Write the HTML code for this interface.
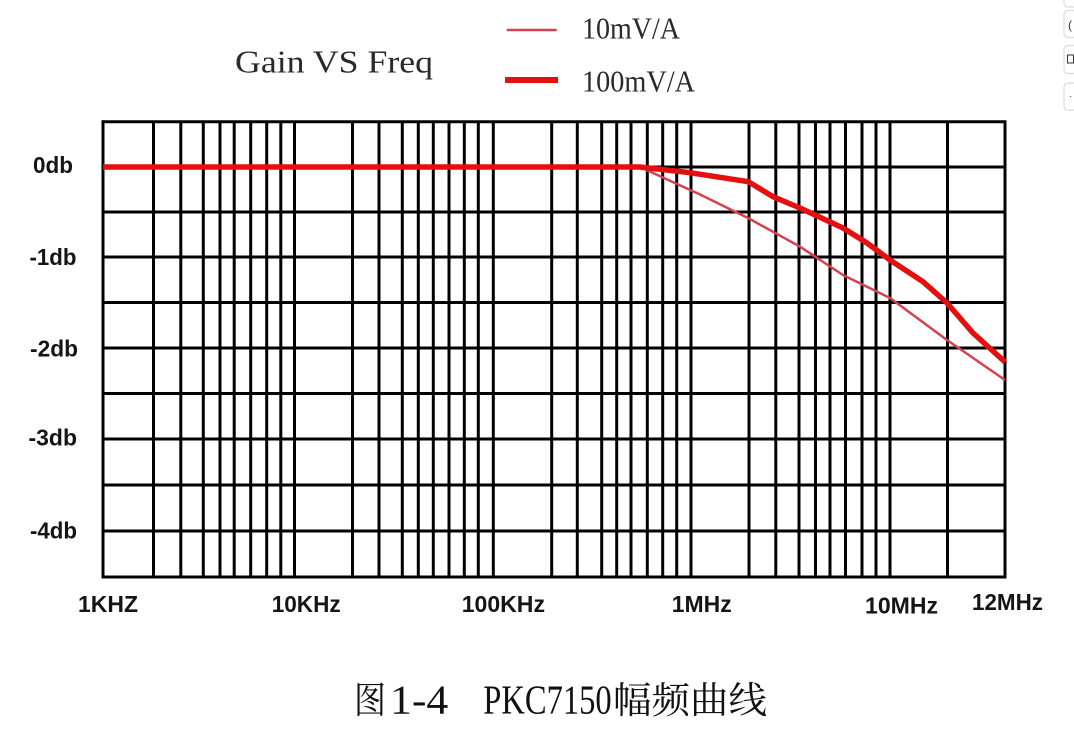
<!DOCTYPE html>
<html>
<head>
<meta charset="utf-8">
<style>
  html,body{margin:0;padding:0;background:#fff;}
  body{width:1074px;height:730px;overflow:hidden;}
  svg{display:block;}
  .ax{font-family:"Liberation Sans",Arial,sans-serif;font-size:23px;font-weight:bold;fill:#151515;}
  .ser{font-family:"Liberation Serif","Noto Serif CJK SC",serif;fill:#2a2a2a;}
  .cjk{font-family:"Liberation Serif","Noto Serif CJK SC",serif;fill:#111;}
  .g line{stroke:#000;stroke-width:3;}
</style>
</head>
<body>
<svg width="1074" height="730" viewBox="0 0 1074 730" xmlns="http://www.w3.org/2000/svg">
  <rect x="0" y="0" width="1074" height="730" fill="#fff"/>

  <text class="ser" x="235" y="72.5" font-size="32" textLength="198" lengthAdjust="spacingAndGlyphs">Gain VS Freq</text>
  <line x1="506.7" y1="30" x2="556.7" y2="30" stroke="#d2434f" stroke-width="2.5"/>
  <text class="ser" x="582" y="38.5" font-size="31" textLength="98" lengthAdjust="spacingAndGlyphs">10mV/A</text>
  <line x1="505" y1="80" x2="558" y2="80" stroke="#e60f0f" stroke-width="6"/>
  <text class="ser" x="582" y="91.5" font-size="31" textLength="113" lengthAdjust="spacingAndGlyphs">100mV/A</text>

  <g class="g">
    <line x1="103" y1="121.7" x2="1005" y2="121.7"/>
    <line x1="103" y1="167" x2="1005" y2="167"/>
    <line x1="103" y1="212" x2="1005" y2="212"/>
    <line x1="103" y1="257" x2="1005" y2="257"/>
    <line x1="103" y1="302.5" x2="1005" y2="302.5"/>
    <line x1="103" y1="348" x2="1005" y2="348"/>
    <line x1="103" y1="393.5" x2="1005" y2="393.5"/>
    <line x1="103" y1="439" x2="1005" y2="439"/>
    <line x1="103" y1="485" x2="1005" y2="485"/>
    <line x1="103" y1="531" x2="1005" y2="531"/>
    <line x1="103" y1="577" x2="1005" y2="577"/>
    <line x1="103" y1="120.2" x2="103" y2="578.5"/>
    <line x1="153.5" y1="121.7" x2="153.5" y2="577"/>
    <line x1="180.8" y1="121.7" x2="180.8" y2="577"/>
    <line x1="203.3" y1="121.7" x2="203.3" y2="577"/>
    <line x1="220" y1="121.7" x2="220" y2="577"/>
    <line x1="234.2" y1="121.7" x2="234.2" y2="577"/>
    <line x1="250.7" y1="121.7" x2="250.7" y2="577"/>
    <line x1="266.7" y1="121.7" x2="266.7" y2="577"/>
    <line x1="280.8" y1="121.7" x2="280.8" y2="577"/>
    <line x1="294.5" y1="121.7" x2="294.5" y2="577"/>
    <line x1="352.5" y1="121.7" x2="352.5" y2="577"/>
    <line x1="379" y1="121.7" x2="379" y2="577"/>
    <line x1="402.3" y1="121.7" x2="402.3" y2="577"/>
    <line x1="418.3" y1="121.7" x2="418.3" y2="577"/>
    <line x1="433.3" y1="121.7" x2="433.3" y2="577"/>
    <line x1="449" y1="121.7" x2="449" y2="577"/>
    <line x1="464.3" y1="121.7" x2="464.3" y2="577"/>
    <line x1="478.3" y1="121.7" x2="478.3" y2="577"/>
    <line x1="493.3" y1="121.7" x2="493.3" y2="577"/>
    <line x1="551.7" y1="121.7" x2="551.7" y2="577"/>
    <line x1="577.3" y1="121.7" x2="577.3" y2="577"/>
    <line x1="601.7" y1="121.7" x2="601.7" y2="577"/>
    <line x1="616.7" y1="121.7" x2="616.7" y2="577"/>
    <line x1="631" y1="121.7" x2="631" y2="577"/>
    <line x1="647.3" y1="121.7" x2="647.3" y2="577"/>
    <line x1="662.7" y1="121.7" x2="662.7" y2="577"/>
    <line x1="676.7" y1="121.7" x2="676.7" y2="577"/>
    <line x1="691" y1="121.7" x2="691" y2="577"/>
    <line x1="749" y1="121.7" x2="749" y2="577"/>
    <line x1="775.8" y1="121.7" x2="775.8" y2="577"/>
    <line x1="799" y1="121.7" x2="799" y2="577"/>
    <line x1="815.5" y1="121.7" x2="815.5" y2="577"/>
    <line x1="830" y1="121.7" x2="830" y2="577"/>
    <line x1="845.5" y1="121.7" x2="845.5" y2="577"/>
    <line x1="862" y1="121.7" x2="862" y2="577"/>
    <line x1="876" y1="121.7" x2="876" y2="577"/>
    <line x1="890" y1="121.7" x2="890" y2="577"/>
    <line x1="947.5" y1="121.7" x2="947.5" y2="577"/>
    <line x1="1005" y1="120.2" x2="1005" y2="578.5"/>
  </g>

  <polyline fill="none" stroke="#d2434f" stroke-width="2.5" stroke-linejoin="round" points="640,167 700,194.5 748,218 800,246.7 843,275 890,298 947,340 1005,380"/>
  <polyline fill="none" stroke="#e60f0f" stroke-width="5.5" stroke-linejoin="round" points="103,167 640,167 690,172.7 748.3,181.7 773,196.7 800,208 843,228 867,243 890,260 923,281.7 947,303 973,333 1005,362"/>

  <text class="ax" x="33" y="173" textLength="40" lengthAdjust="spacingAndGlyphs">0db</text>
  <text class="ax" x="29.5" y="265" textLength="47" lengthAdjust="spacingAndGlyphs">-1db</text>
  <text class="ax" x="30" y="356.5" textLength="48" lengthAdjust="spacingAndGlyphs">-2db</text>
  <text class="ax" x="28.5" y="445.5" textLength="48.5" lengthAdjust="spacingAndGlyphs">-3db</text>
  <text class="ax" x="30" y="538.5" textLength="47" lengthAdjust="spacingAndGlyphs">-4db</text>

  <text class="ax" x="78" y="612" textLength="60" lengthAdjust="spacingAndGlyphs">1KHZ</text>
  <text class="ax" x="271.7" y="612" textLength="69" lengthAdjust="spacingAndGlyphs">10KHz</text>
  <text class="ax" x="461.7" y="612" textLength="83.3" lengthAdjust="spacingAndGlyphs">100KHz</text>
  <text class="ax" x="671.7" y="612" textLength="60" lengthAdjust="spacingAndGlyphs">1MHz</text>
  <text class="ax" x="865" y="613.5" textLength="73" lengthAdjust="spacingAndGlyphs">10MHz</text>
  <text class="ax" x="972" y="610" textLength="71" lengthAdjust="spacingAndGlyphs">12MHz</text>

  <text class="cjk" x="354" y="713" font-size="37" textLength="32" lengthAdjust="spacingAndGlyphs">图</text>
  <text class="ser" x="390" y="713.5" font-size="41" textLength="58.3" lengthAdjust="spacingAndGlyphs" style="fill:#111">1-4</text>
  <text class="ser" x="483.3" y="713.5" font-size="41" textLength="128.4" lengthAdjust="spacingAndGlyphs" style="fill:#111">PKC7150</text>
  <text class="cjk" x="613" y="713" font-size="37" textLength="154" lengthAdjust="spacingAndGlyphs">幅频曲线</text>

  <g fill="#fff" stroke="#dcdcdc" stroke-width="1.2">
    <rect x="1064" y="-6" width="20" height="13" rx="4"/>
    <rect x="1064" y="10.5" width="20" height="27" rx="4"/>
    <rect x="1064" y="45.5" width="20" height="28" rx="4"/>
    <rect x="1064" y="83" width="20" height="27" rx="4"/>
  </g>
  <text x="1068" y="29" font-family="Liberation Sans, sans-serif" font-size="12" fill="#333">(</text>
  <rect x="1067.5" y="55" width="6" height="8" fill="none" stroke="#333" stroke-width="1"/>
  <text x="1069" y="99" font-family="Liberation Sans, sans-serif" font-size="10" fill="#333">·</text>
</svg>
</body>
</html>
